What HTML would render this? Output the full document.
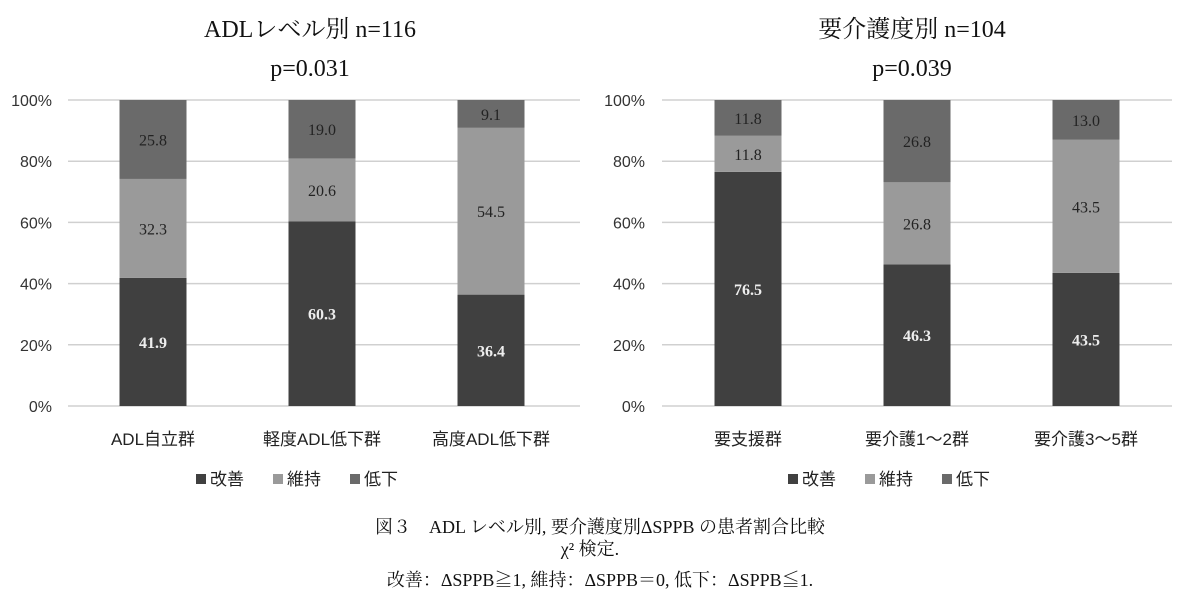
<!DOCTYPE html>
<html><head><meta charset="utf-8"><style>
body{margin:0;background:#fff}
svg text{font-family:"Liberation Sans","Noto Sans CJK JP",sans-serif}
.serif{font-family:"Liberation Serif","Noto Serif CJK SC",serif!important}
</style></head><body>
<svg id="c" width="1200" height="608" xmlns="http://www.w3.org/2000/svg"></svg>
<script>
const leftCats=["ADL自立群","軽度ADL低下群","高度ADL低下群"];
const leftImprove=[41.9,60.3,36.4];
const leftMaintain=[32.3,20.6,54.5];
const leftDecline=[25.8,19.0,9.1];
const rightCats=["要支援群","要介護1〜2群","要介護3〜5群"];
const rightImprove=[76.5,46.3,43.5];
const rightMaintain=[11.8,26.8,43.5];
const rightDecline=[11.8,26.8,13.0];
const yTicks=[0,20,40,60,80,100];
const seriesNames=["改善","維持","低下"];
const colors=["#404040","#9a9a9a","#6a6a6a"];
const textColors=["#eee","#222","#222"];
const NS="http://www.w3.org/2000/svg";
const svg=document.getElementById("c");
function mk(tag,attrs,txt){const e=document.createElementNS(NS,tag);for(const k in attrs)e.setAttribute(k,attrs[k]);if(txt!==undefined)e.textContent=txt;svg.appendChild(e);return e;}
const y0=406,y1=100;
function yS(v){return y0-(v/100)*(y0-y1);}
function drawChart(x0,x1,labelX,centers,cats,series,t1,t2,titleX,prefix,legendX){
  let e=mk("text",{x:titleX,y:37,"font-size":24,"text-anchor":"middle",fill:"#111",class:"serif"},t1);
  
  
  e=mk("text",{x:titleX,y:76,"font-size":24,"text-anchor":"middle",fill:"#111",class:"serif"},t2);
  
  
  yTicks.forEach(t=>{
    const g=mk("line",{x1:x0,x2:x1,y1:yS(t),y2:yS(t),stroke:"#d0d0d0","stroke-width":1.5});
    
    
    const l=mk("text",{x:labelX,y:yS(t)+6,"font-size":16,"text-anchor":"end",fill:"#333"},t+"%");
    
    
  });
  const bw=67;
  cats.forEach((c,i)=>{
    let base=0;
    series.forEach((s,k)=>{
      const v=s[i];
      const top=(k===2)?100:base+v;
      const r=mk("rect",{x:centers[i]-bw/2,y:yS(top),width:bw,height:yS(base)-yS(top),fill:colors[k]});
      
      
      const lab=mk("text",{x:centers[i],y:(yS(base)+yS(top))/2+6,"font-size":16,"text-anchor":"middle",fill:textColors[k],"font-weight":k===0?"bold":"normal",class:"serif"},v.toFixed(1));
      
      
      base=top;
    });
    const cl=mk("text",{x:centers[i],y:445,"font-size":17,"text-anchor":"middle",fill:"#222"},c);
    
    
  });
  seriesNames.forEach((n,k)=>{
    const lx=legendX+k*77;
    const sq=mk("rect",{x:lx,y:474,width:10,height:10,fill:colors[k]});
    
    
    const lt=mk("text",{x:lx+14,y:485,"font-size":17,fill:"#222"},n);
    
    
  });
}
drawChart(68,580,52,[153,322,491],leftCats,[leftImprove,leftMaintain,leftDecline],"ADLレベル別 n=116","p=0.031",310,"left",196);
drawChart(662,1172,645,[748,917,1086],rightCats,[rightImprove,rightMaintain,rightDecline],"要介護度別 n=104","p=0.039",912,"right",788);
const caps=[["図３　ADL レベル別,  要介護度別ΔSPPB の患者割合比較",533],["χ² 検定.",555],["改善：ΔSPPB≧1,  維持：ΔSPPB＝0,  低下：ΔSPPB≦1.",586]];
caps.forEach((c,i)=>{
  const t=mk("text",{x:i==1?590:600,y:c[1],"font-size":18,"text-anchor":"middle",fill:"#111",class:"serif"},c[0]);
  
  
});
</script>
</body></html>
